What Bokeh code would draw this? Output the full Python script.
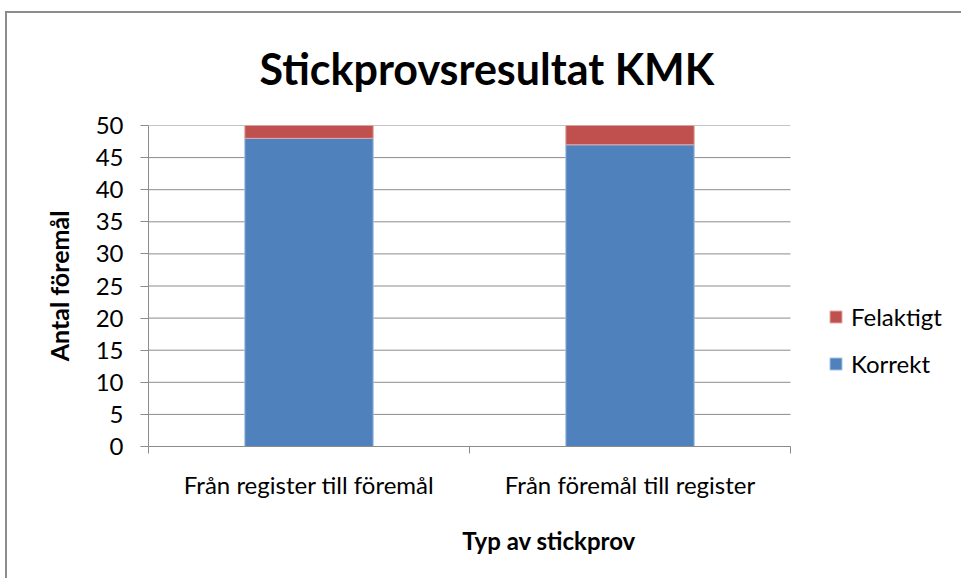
from bokeh.plotting import figure
from bokeh.models import ColumnDataSource, FixedTicker, Legend, LegendItem, Range1d, Title
from bokeh.embed import file_html
from bokeh.resources import INLINE

categories = ["Från register till föremål", "Från föremål till register"]
korrekt = [48, 47]
felaktigt = [2, 3]
y_ticks = [0, 5, 10, 15, 20, 25, 30, 35, 40, 45, 50]

FONT = "Lato"
n = len(categories)
x_pos = [i + 0.5 for i in range(n)]
src = ColumnDataSource(dict(x=x_pos, Korrekt=korrekt, Felaktigt=felaktigt))

# frame extends to the right so the legend can sit inside it (unclipped)
p = figure(width=956, height=578, output_backend="svg", toolbar_location=None,
           x_range=Range1d(0, n * 801 / 642), y_range=Range1d(0, 50),
           min_border_left=143, min_border_right=12, min_border_top=125,
           min_border_bottom=132, title=None)
p.border_fill_alpha = 0
p.background_fill_color = "white"
# chart-area border (top and left edges) drawn behind the transparent canvas
p.styles = {
    "margin-left": "5px", "margin-top": "0px",
    "background-color": "white",
    "background-image": "linear-gradient(#8c8c8c, #8c8c8c), linear-gradient(#8c8c8c, #8c8c8c)",
    "background-position": "0px 11px, 0px 11px",
    "background-size": "100% 2px, 2px 100%",
    "background-repeat": "no-repeat, no-repeat",
}

p.outline_line_color = None
p.xgrid.grid_line_color = None
p.ygrid.grid_line_color = None

# horizontal gridlines limited to the category area
p.segment(x0=[0] * len(y_ticks), x1=[n] * len(y_ticks), y0=y_ticks, y1=y_ticks,
          line_color="#8c8c8c", line_width=1)

r = p.vbar_stack(["Korrekt", "Felaktigt"], x="x", width=0.4, source=src,
                 color=["#4F81BD", "#C0504D"], line_color=["#A7C0DE", "#E0A8A6"],
                 line_width=1)

t = Title(text="Stickprovsresultat KMK", align="left", offset=111,
          text_font=FONT, text_font_size="43px", text_font_style="bold",
          text_color="#000000", standoff=64)
p.add_layout(t, "above")

p.yaxis.ticker = FixedTicker(ticks=y_ticks)
p.yaxis.axis_line_color = "#8c8c8c"
p.yaxis.major_tick_line_color = "#8c8c8c"
p.yaxis.major_tick_out = 8
p.yaxis.major_tick_in = 0
p.yaxis.minor_tick_line_color = None
p.yaxis.major_label_text_font = FONT
p.yaxis.major_label_text_font_size = "24px"
p.yaxis.major_label_text_color = "#000000"
p.yaxis.major_label_standoff = 17
p.yaxis.axis_label = "Antal föremål"
p.yaxis.axis_label_text_font = FONT
p.yaxis.axis_label_text_font_size = "25px"
p.yaxis.axis_label_text_font_style = "bold"
p.yaxis.axis_label_text_color = "#000000"
p.yaxis.axis_label_standoff = 19

p.xaxis.ticker = FixedTicker(ticks=x_pos, minor_ticks=list(range(n + 1)))
p.xaxis.bounds = (0, n)
p.xaxis.major_label_overrides = {x: c for x, c in zip(x_pos, categories)}
p.xaxis.axis_line_color = "#8c8c8c"
p.xaxis.major_tick_line_color = None
p.xaxis.minor_tick_line_color = "#8c8c8c"
p.xaxis.minor_tick_out = 7
p.xaxis.minor_tick_in = 0
p.xaxis.major_label_text_font = FONT
p.xaxis.major_label_text_font_size = "24px"
p.xaxis.major_label_text_color = "#000000"
p.xaxis.major_label_standoff = 16
p.xaxis.axis_label = "Typ av stickprov"
p.xaxis.axis_label_text_font = FONT
p.xaxis.axis_label_text_font_size = "24px"
p.xaxis.axis_label_text_font_style = "bold"
p.xaxis.axis_label_text_color = "#000000"
p.xaxis.axis_label_standoff = 24

legend = Legend(items=[LegendItem(label="Felaktigt", renderers=[r[1]]),
                       LegendItem(label="Korrekt", renderers=[r[0]])],
                location=(680, 68))
legend.border_line_color = None
legend.background_fill_alpha = 0
legend.label_text_font = FONT
legend.label_text_font_size = "24px"
legend.label_text_color = "#000000"
legend.glyph_width = 15
legend.glyph_height = 15
legend.label_height = 24
legend.spacing = 18
legend.label_standoff = 8
legend.padding = 0
legend.margin = 0
p.add_layout(legend, "center")

open("out.html", "w").write(file_html(p, INLINE))
